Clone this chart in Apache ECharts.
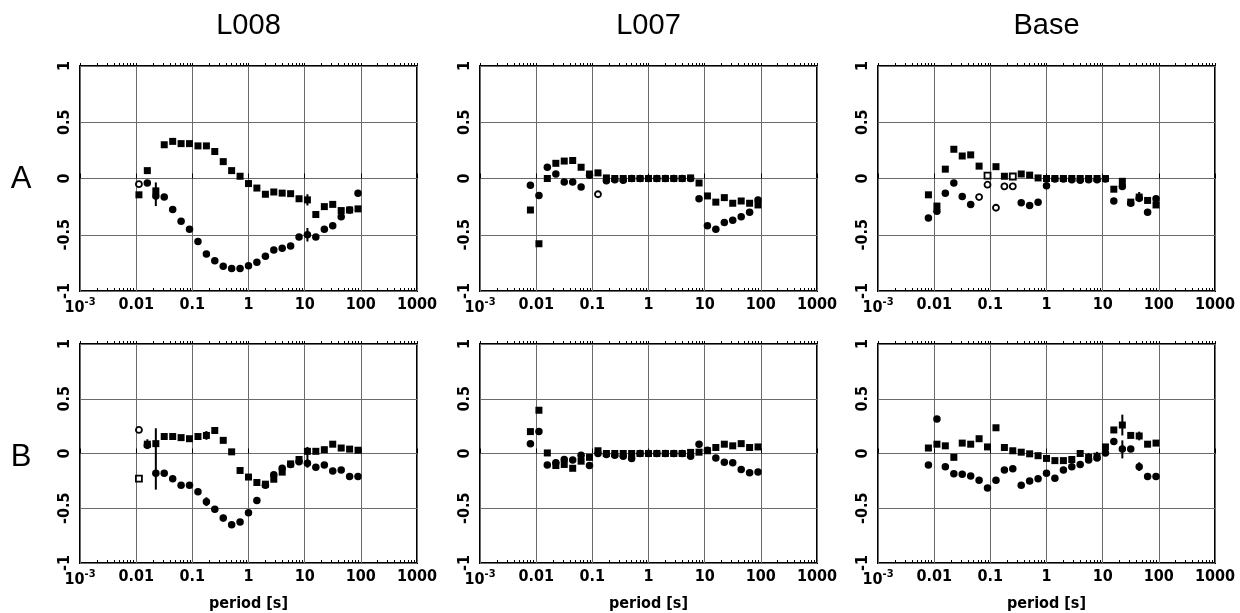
<!DOCTYPE html>
<html>
<head>
<meta charset="utf-8">
<script src="https://cdn.jsdelivr.net/npm/echarts@6/dist/echarts.min.js"></script>
<style>
  html, body { margin: 0; padding: 0; background: #fff; }
  #chart { width: 1240px; height: 613px; }
</style>
</head>
<body>
<div id="chart"></div>
<script>
// Sampling periods [s], shared by every panel
const periods = [0.0079, 0.0112, 0.0158, 0.0224, 0.0316, 0.0447, 0.0631, 0.0891, 0.126, 0.178,
  0.251, 0.355, 0.501, 0.708, 1, 1.41, 2.0, 2.82, 3.98, 5.62, 7.94, 11.2, 15.8, 22.4, 31.6, 44.7, 63.1, 89.1];

const columnTitles = ['L008', 'L007', 'Base'];
const rowTitles = ['A', 'B'];

// Row A
const aL008Squares = [null, -0.145, 0.07, -0.11, 0.30, 0.33, 0.31, 0.31, 0.29, 0.29, 0.24, 0.15, 0.07, 0.02,
  -0.045, -0.085, -0.14, -0.12, -0.13, -0.135, -0.18, -0.19, -0.32, -0.25, -0.23, -0.285, -0.28, -0.27];
const aL008Circles = [null, -0.05, -0.04, -0.155, -0.165, -0.275, -0.38, -0.45, -0.56, -0.67, -0.73, -0.78, -0.80, -0.80,
  -0.775, -0.745, -0.69, -0.635, -0.62, -0.60, -0.52, -0.50, -0.52, -0.45, -0.42, -0.34, -0.28, -0.13];
const aL008OpenSquares = [];
const aL008OpenCircles = [1];
const aL008Errors = [[0.0224, -0.245, -0.035], [11.2, -0.24, -0.14], [11.2, -0.56, -0.44]];

const aL007Squares = [-0.28, -0.58, 0.0, 0.135, 0.155, 0.16, 0.10, 0.04, 0.05, 0.005, 0, 0, 0, 0,
  0, 0, 0, 0, 0, 0.005, -0.04, -0.155, -0.21, -0.17, -0.22, -0.20, -0.22, -0.235];
const aL007Circles = [-0.06, -0.15, 0.10, 0.04, -0.03, -0.03, -0.075, 0.03, -0.14, -0.02, -0.01, -0.015, 0, 0,
  0, 0, 0, 0, 0, 0, -0.18, -0.42, -0.45, -0.39, -0.37, -0.34, -0.30, -0.19];
const aL007OpenSquares = [];
const aL007OpenCircles = [8];
const aL007Errors = [];

const aBaseSquares = [-0.145, -0.245, 0.083, 0.26, 0.20, 0.21, 0.11, 0.025, 0.105, 0.02, 0.018, 0.04, 0.03, 0.005,
  0, 0, 0, 0, 0, 0, 0, 0, -0.095, -0.025, -0.21, -0.165, -0.195, -0.235];
const aBaseCircles = [-0.35, -0.29, -0.13, -0.04, -0.16, -0.23, -0.165, -0.055, -0.26, -0.07, -0.07, -0.215, -0.24, -0.21,
  -0.065, -0.005, -0.005, -0.01, -0.015, -0.01, -0.01, -0.005, -0.20, -0.07, -0.22, -0.175, -0.30, -0.18];
const aBaseOpenSquares = [7, 10];
const aBaseOpenCircles = [6, 7, 8, 9, 10];
const aBaseErrors = [[22.4, -0.085, 0.0], [44.7, -0.21, -0.12]];

// Row B
const bL008Squares = [null, -0.23, 0.085, 0.09, 0.155, 0.155, 0.145, 0.135, 0.155, 0.165, 0.21, 0.12, 0.015, -0.155,
  -0.215, -0.265, -0.28, -0.235, -0.17, -0.095, -0.055, 0.02, 0.02, 0.035, 0.085, 0.05, 0.04, 0.03];
const bL008Circles = [null, 0.215, 0.075, -0.18, -0.18, -0.23, -0.29, -0.29, -0.35, -0.44, -0.51, -0.59, -0.65, -0.625,
  -0.54, -0.43, -0.29, -0.195, -0.135, -0.10, -0.075, -0.09, -0.125, -0.105, -0.16, -0.15, -0.21, -0.21];
const bL008OpenSquares = [1];
const bL008OpenCircles = [1];
const bL008Errors = [[0.0158, 0.04, 0.13], [0.0224, -0.33, 0.23], [0.178, 0.125, 0.205], [0.178, -0.48, -0.40],
  [0.355, -0.62, -0.56], [11.2, -0.13, 0.06]];

const bL007Squares = [0.20, 0.395, 0.005, -0.11, -0.10, -0.135, -0.07, -0.035, 0.025, 0, 0, 0, 0, 0,
  0, 0, 0, 0, 0, 0.01, 0.012, 0.025, 0.055, 0.085, 0.07, 0.09, 0.055, 0.06];
const bL007Circles = [0.09, 0.20, -0.105, -0.085, -0.055, -0.06, -0.015, -0.11, 0.0, -0.01, -0.015, -0.025, -0.045, 0,
  0, 0, 0, 0, 0, -0.025, 0.085, 0.03, -0.04, -0.08, -0.085, -0.145, -0.175, -0.17];
const bL007OpenSquares = [];
const bL007OpenCircles = [];
const bL007Errors = [];

const bBaseSquares = [0.05, 0.085, 0.07, -0.035, 0.095, 0.085, 0.135, 0.06, 0.235, 0.055, 0.025, 0.012, -0.003, -0.02,
  -0.045, -0.065, -0.065, -0.055, 0.0, -0.035, -0.025, 0.06, 0.215, 0.26, 0.165, 0.16, 0.085, 0.095];
const bBaseCircles = [-0.105, 0.315, -0.12, -0.185, -0.19, -0.205, -0.245, -0.315, -0.245, -0.15, -0.14, -0.29, -0.25, -0.23,
  -0.18, -0.225, -0.15, -0.12, -0.10, -0.06, -0.04, 0.005, 0.11, 0.04, 0.04, -0.12, -0.21, -0.21];
const bBaseOpenSquares = [];
const bBaseOpenCircles = [];
const bBaseErrors = [[5.62, -0.075, 0.005], [7.94, -0.065, 0.015], [15.8, 0.08, 0.14], [22.4, 0.165, 0.355],
  [22.4, -0.045, 0.12], [44.7, 0.12, 0.20], [44.7, -0.16, -0.08], [63.1, -0.24, -0.18], [89.1, -0.24, -0.18]];

const panels = [
  { row: 0, col: 0, sq: aL008Squares, ci: aL008Circles, openSq: aL008OpenSquares, openCi: aL008OpenCircles, err: aL008Errors },
  { row: 0, col: 1, sq: aL007Squares, ci: aL007Circles, openSq: aL007OpenSquares, openCi: aL007OpenCircles, err: aL007Errors },
  { row: 0, col: 2, sq: aBaseSquares, ci: aBaseCircles, openSq: aBaseOpenSquares, openCi: aBaseOpenCircles, err: aBaseErrors },
  { row: 1, col: 0, sq: bL008Squares, ci: bL008Circles, openSq: bL008OpenSquares, openCi: bL008OpenCircles, err: bL008Errors },
  { row: 1, col: 1, sq: bL007Squares, ci: bL007Circles, openSq: bL007OpenSquares, openCi: bL007OpenCircles, err: bL007Errors },
  { row: 1, col: 2, sq: bBaseSquares, ci: bBaseCircles, openSq: bBaseOpenSquares, openCi: bBaseOpenCircles, err: bBaseErrors }
];

// Layout
const colLeft = [80, 480, 878];
const colWidth = 337;
const rowTop = [66, 344];
const rowHeight = 225;

const tickFont = "'Liberation Sans Narrow', 'DejaVu Sans Condensed', 'Arial Narrow', sans-serif";
const titleFont = "'Liberation Sans', Arial, sans-serif";

// Log-axis minor tick positions (2..9 within each decade)
const minorTicks = [];
for (let e = -3; e < 3; e++) {
  for (let m = 2; m <= 9; m++) minorTicks.push(m * Math.pow(10, e));
}
const majorTicks = [0.001, 0.01, 0.1, 1, 10, 100, 1000];

function xLabel(v) {
  const e = Math.round(Math.log10(v));
  const names = { '-2': '0.01', '-1': '0.1', '0': '1', '1': '10', '2': '100', '3': '1000' };
  if (e === -3) return '10{sup|-3}';
  return names[e];
}

const grids = [], xAxes = [], yAxes = [], series = [], graphics = [];

panels.forEach((p, gi) => {
  grids.push({
    left: colLeft[p.col], top: rowTop[p.row], width: colWidth, height: rowHeight,
    show: true, borderColor: '#000', borderWidth: 2, backgroundColor: 'transparent'
  });
  const mainX = xAxes.length;
  // Main bottom axis: labels, decade grid lines and inward ticks
  xAxes.push({
    type: 'log', logBase: 10, gridIndex: gi, min: 0.001, max: 1000, interval: 1,
    position: 'bottom',
    axisLine: { show: false },
    axisTick: { show: true, inside: true, length: 5, lineStyle: { color: '#000', width: 1 } },
    splitLine: { show: true, lineStyle: { color: '#6a6a6a', width: 1 } },
    axisLabel: {
      show: true, margin: 6, color: '#000', fontFamily: tickFont, fontWeight: 'bold', fontSize: 16,
      formatter: xLabel,
      rich: { sup: { fontFamily: tickFont, fontWeight: 'bold', fontSize: 11, verticalAlign: 'top', padding: [0, 0, 10, 0] } }
    },
    name: p.row === 1 ? 'period [s]' : '',
    nameLocation: 'middle', nameGap: 33,
    nameTextStyle: { color: '#000', fontFamily: tickFont, fontWeight: 'bold', fontSize: 16 }
  });
  // Minor ticks along the bottom edge
  xAxes.push({
    type: 'log', logBase: 10, gridIndex: gi, min: 0.001, max: 1000, position: 'bottom',
    axisLine: { show: false }, axisLabel: { show: false }, splitLine: { show: false },
    axisTick: { show: true, inside: true, length: 3, customValues: minorTicks, lineStyle: { color: '#000', width: 1 } }
  });
  // Minor and major ticks along the top edge
  xAxes.push({
    type: 'log', logBase: 10, gridIndex: gi, min: 0.001, max: 1000, position: 'top',
    axisLine: { show: false }, axisLabel: { show: false }, splitLine: { show: false },
    axisTick: { show: true, inside: false, length: 3, customValues: minorTicks.concat(majorTicks), lineStyle: { color: '#000', width: 1 } }
  });
  yAxes.push({
    type: 'value', gridIndex: gi, min: -1, max: 1, interval: 0.5,
    axisLine: { show: false }, axisTick: { show: false },
    splitLine: { show: true, lineStyle: { color: '#6a6a6a', width: 1 } },
    axisLabel: {
      show: true, rotate: 90, margin: 7, color: '#000', fontFamily: tickFont, fontWeight: 'bold', fontSize: 16,
      formatter: v => String(v)
    }
  });

  const build = (vals, open) => {
    const out = [];
    vals.forEach((v, i) => {
      if (v === null) return;
      if (open.indexOf(i) >= 0) {
        out.push({ value: [periods[i], v], symbolSize: 6,
          itemStyle: { color: '#fff', borderColor: '#000', borderWidth: 1.8 } });
      } else {
        out.push([periods[i], v]);
      }
    });
    return out;
  };

  // Error bars
  series.push({
    type: 'custom', xAxisIndex: mainX, yAxisIndex: gi, z: 3,
    data: p.err,
    renderItem: (params, api) => {
      const a = api.coord([api.value(0), api.value(1)]);
      const b = api.coord([api.value(0), api.value(2)]);
      return { type: 'line', shape: { x1: a[0], y1: a[1], x2: b[0], y2: b[1] }, style: { stroke: '#000', lineWidth: 2 } };
    }
  });
  series.push({
    type: 'scatter', xAxisIndex: mainX, yAxisIndex: gi, symbol: 'rect', symbolSize: 7, z: 4,
    itemStyle: { color: '#000', opacity: 1 }, data: build(p.sq, p.openSq), silent: true
  });
  series.push({
    type: 'scatter', xAxisIndex: mainX, yAxisIndex: gi, symbol: 'circle', symbolSize: 7.5, z: 5,
    itemStyle: { color: '#000', opacity: 1 }, data: build(p.ci, p.openCi), silent: true
  });
});

columnTitles.forEach((t, c) => {
  graphics.push({
    type: 'text', x: colLeft[c] + colWidth / 2, y: 26,
    style: { text: t, font: '29px ' + titleFont, fill: '#000', textAlign: 'center', textVerticalAlign: 'middle' }
  });
});
rowTitles.forEach((t, r) => {
  graphics.push({
    type: 'text', x: 21, y: rowTop[r] + rowHeight / 2 + 1,
    style: { text: t, font: '31px ' + titleFont, fill: '#000', textAlign: 'center', textVerticalAlign: 'middle' }
  });
});

const chart = echarts.init(document.getElementById('chart'), null, { renderer: 'canvas' });
chart.setOption({
  animation: false,
  backgroundColor: '#fff',
  grid: grids,
  xAxis: xAxes,
  yAxis: yAxes,
  series: series,
  graphic: graphics
});
</script>
</body>
</html>
